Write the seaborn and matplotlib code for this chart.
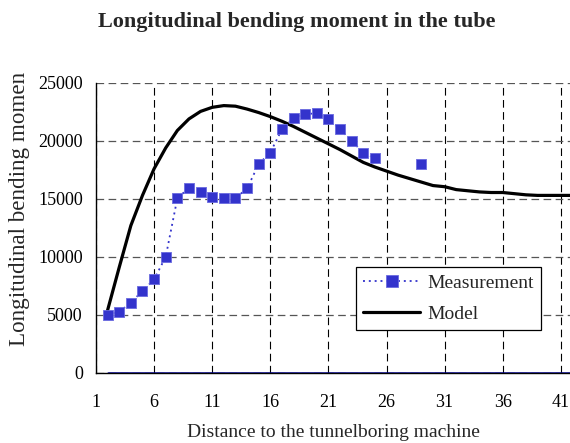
import numpy as np
import pandas as pd
import matplotlib
matplotlib.use("Agg")
import matplotlib.pyplot as plt
import seaborn as sns
from matplotlib.lines import Line2D
from matplotlib.patches import Rectangle

# ---------------- data ----------------
title = "Longitudinal bending moment in the tube"
x_label = "Distance to the tunnelboring machine"
y_label = "Longitudinal bending moment"
x_ticks = [1, 6, 11, 16, 21, 26, 31, 36, 41]
y_ticks = [0, 5000, 10000, 15000, 20000, 25000]

meas_x = [2, 3, 4, 5, 6, 7, 8, 9, 10, 11, 12, 13, 14, 15, 16, 17, 18, 19, 20,
          21, 22, 23, 24, 25, 29]
meas_y = [5000, 5250, 6050, 7050, 8050, 10000, 15050, 15950, 15600, 15150,
          15050, 15050, 15900, 18000, 19000, 21000, 22000, 22300, 22400,
          21900, 21000, 20000, 19000, 18500, 18000]
meas_segment = [0, 0, 0, 0, 0, 0, 0, 0, 0, 0, 0, 0, 0, 0, 0, 0, 0, 0, 0,
                0, 0, 0, 0, 0, 1]

model_x = list(range(2, 43))
model_y = [5400, 9100, 12700, 15300, 17600, 19400, 20900, 21900, 22550, 22900,
           23050, 23000, 22750, 22450, 22100, 21700, 21250, 20750, 20250,
           19750, 19250, 18700, 18150, 17750, 17400, 17050, 16750, 16450,
           16150, 16050, 15800, 15700, 15600, 15550, 15550, 15450, 15350,
           15300, 15300, 15300, 15300]

baseline_x = [2, 42]
baseline_y = [0, 0]

# ---------------- style ----------------
sns.set_style("white")
plt.rcParams["font.family"] = ["Liberation Serif", "DejaVu Serif"]
plt.rcParams["lines.scale_dashes"] = False

TICK_FS = 13
LABEL_FS = 14
LEG_FS = 14
meas_color = "#3333cc"

df_meas = pd.DataFrame({"x": meas_x, "y": meas_y, "seg": meas_segment})
df_model = pd.DataFrame({"x": model_x, "y": model_y})
df_base = pd.DataFrame({"x": baseline_x, "y": baseline_y})

fig = plt.figure(figsize=(5.70, 4.43), dpi=100)
W, H = 570.0, 443.0
ax_left, ax_right, ax_top, ax_bottom = 96, 570, 83, 372.7
ax = fig.add_axes([ax_left / W, 1 - ax_bottom / H,
                   (ax_right - ax_left) / W, (ax_bottom - ax_top) / H])

# baseline series (navy)
sns.lineplot(data=df_base, x="x", y="y", ax=ax, color="#000080",
             linewidth=1.8, estimator=None, zorder=4, legend=False)

# model
sns.lineplot(data=df_model, x="x", y="y", ax=ax, color="black",
             linewidth=2.3, estimator=None, zorder=3, legend=False)

# measurement dotted line (gap between segments)
sns.lineplot(data=df_meas, x="x", y="y", units="seg", estimator=None, ax=ax,
             color=meas_color, linewidth=1.3, linestyle=(0, (1.4, 2.8)),
             zorder=5, legend=False)
sns.scatterplot(data=df_meas, x="x", y="y", ax=ax, marker="s", s=62,
                color=meas_color, edgecolor="#6a6ae0", linewidth=0.6,
                zorder=6, legend=False)

ax.set_xlim(1, 1 + (ax_right - ax_left) / 11.62)
ax.set_ylim(0, 25000)
ax.set_xticks(x_ticks)
ax.set_xticklabels([str(v) for v in x_ticks])
ax.set_yticks(y_ticks)
ax.set_yticklabels([str(v) for v in y_ticks])

ax.grid(False)
ax.xaxis.grid(True, color="black", linewidth=0.8, linestyle=(0, (5.5, 3.2)))
ax.yaxis.grid(True, color="#555555", linewidth=0.9, linestyle=(0, (5.5, 3.2)))
ax.set_axisbelow(True)

for s in ["top", "right"]:
    ax.spines[s].set_visible(False)
for s in ["left", "bottom"]:
    ax.spines[s].set_color("black")
    ax.spines[s].set_linewidth(1.0)

ax.tick_params(axis="both", direction="out", length=4.5, width=0.8,
               colors="black", labelsize=TICK_FS)
ax.tick_params(axis="y", pad=5)
ax.tick_params(axis="x", pad=11)

ax.set_xlabel(x_label, fontsize=LABEL_FS, labelpad=9)
ax.set_ylabel("")

# y label, clipped at top like the original
ytxt = fig.text(19 / W, 1 - 346 / H, y_label, rotation=90, fontsize=16.6,
                ha="left", va="center", rotation_mode="anchor")
clip = Rectangle((0, 0), 1, 1 - 73 / H, transform=fig.transFigure,
                 facecolor="none", edgecolor="none")
fig.add_artist(clip)
ytxt.set_clip_path(clip)

fig.text(297 / W, 1 - 22 / H, title, fontsize=16, fontweight="bold",
         ha="center", va="center")

handles = [
    Line2D([], [], color=meas_color, linewidth=1.3, linestyle=(0, (1.4, 2.8)),
           marker="s", markersize=8, markerfacecolor=meas_color,
           markeredgecolor="#6a6ae0", markeredgewidth=0.6),
    Line2D([], [], color="black", linewidth=2.3),
]
leg = ax.legend(handles, ["Measurement", "Model"], loc="upper left",
                bbox_to_anchor=((356 - ax_left) / (ax_right - ax_left),
                                (ax_bottom - 267) / (ax_bottom - ax_top)),
                fontsize=LEG_FS, frameon=True, fancybox=False, framealpha=1,
                edgecolor="black", borderpad=0.37, handlelength=2.94,
                handletextpad=0.36, labelspacing=0.7, borderaxespad=0)
leg.get_frame().set_linewidth(0.9)
leg.set_zorder(10)

fig.savefig("out.png", dpi=100)
